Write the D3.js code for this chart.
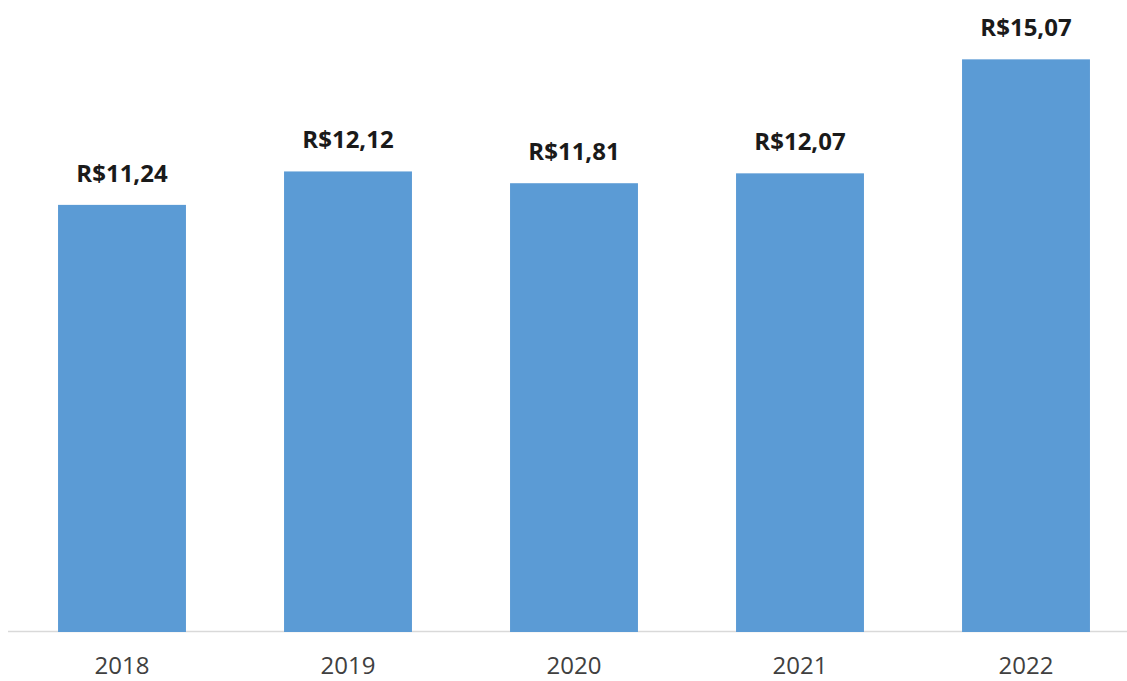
<!DOCTYPE html>
<html>
<head>
<meta charset="utf-8">
<script src="https://cdn.jsdelivr.net/npm/d3@7"></script>
<style>
  body { margin: 0; background: #fff; }
  svg { display: block; }
</style>
</head>
<body>
<div id="chart"></div>
<script>
var width = 1127,
    height = 681;

var anos = ["2018", "2019", "2020", "2021", "2022"];
var valores = [11.24, 12.12, 11.81, 12.07, 15.07];
var rotulos = ["R$11,24", "R$12,12", "R$11,81", "R$12,07", "R$15,07"];

var svg = d3.select("#chart")
    .append("svg")
    .attr("width", width)
    .attr("height", height);

var x = d3.scaleBand()
    .domain(anos)
    .range([9, 1139])
    .paddingInner(0.434)
    .paddingOuter(0.217);

var y = d3.scaleLinear()
    .domain([0, 16])
    .range([632, 24]);

// linha do eixo
svg.append("line")
    .attr("x1", 8)
    .attr("x2", width)
    .attr("y1", 631.5)
    .attr("y2", 631.5)
    .attr("stroke", "#d9d9d9")
    .attr("stroke-width", 1.5);

svg.selectAll(".barra")
    .data(valores)
    .enter().append("rect")
    .attr("class", "barra")
    .attr("x", function(d, i) { return x(anos[i]); })
    .attr("y", function(d) { return y(d); })
    .attr("width", x.bandwidth())
    .attr("height", function(d) { return y(0) - y(d); })
    .attr("fill", "#5b9bd5");

svg.selectAll(".rotulo")
    .data(valores)
    .enter().append("text")
    .attr("class", "rotulo")
    .attr("x", function(d, i) { return x(anos[i]) + x.bandwidth() / 2; })
    .attr("y", function(d) { return y(d) - 23; })
    .attr("text-anchor", "middle")
    .attr("font-family", "'Open Sans', sans-serif")
    .attr("font-weight", "bold")
    .attr("font-size", 24)
    .attr("fill", "#1a1a1a")
    .text(function(d, i) { return rotulos[i]; });

svg.selectAll(".ano")
    .data(anos)
    .enter().append("text")
    .attr("class", "ano")
    .attr("x", function(d) { return x(d) + x.bandwidth() / 2; })
    .attr("y", 674)
    .attr("text-anchor", "middle")
    .attr("font-family", "'Open Sans', sans-serif")
    .attr("font-size", 24)
    .attr("fill", "#404040")
    .text(function(d) { return d; });
</script>
</body>
</html>
